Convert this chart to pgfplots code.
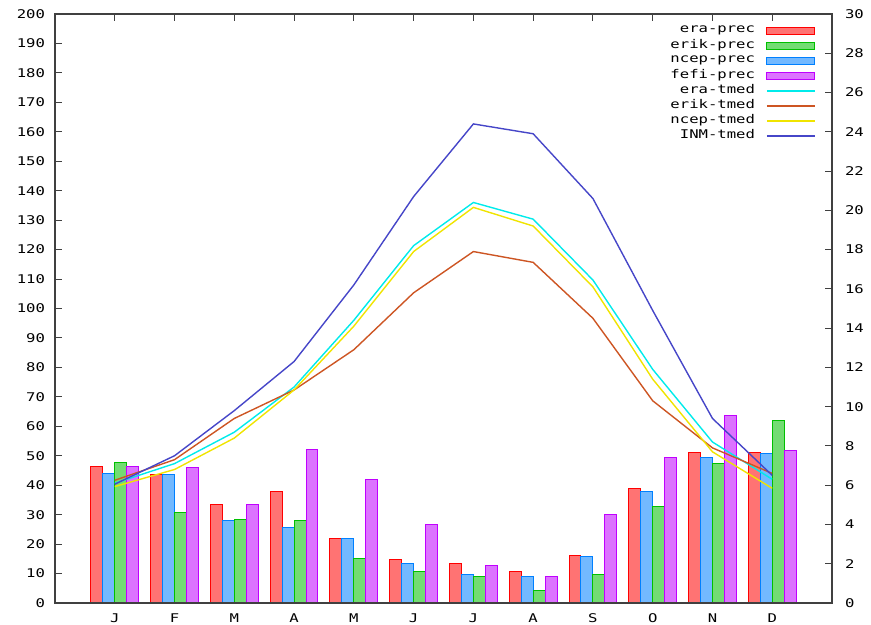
\documentclass[border=0pt]{standalone}
\usepackage{pgfplots}
\pgfplotsset{compat=1.18}
\usepackage{fontspec}
\newfontfamily\gp[FakeStretch=1.3]{DejaVu Sans Mono}
\definecolor{cera}{RGB}{255,0,0}
\definecolor{cerik}{RGB}{0,192,0}
\definecolor{cncep}{RGB}{0,128,255}
\definecolor{cfefi}{RGB}{192,0,255}
\definecolor{tera}{RGB}{0,235,235}
\definecolor{terik}{RGB}{205,85,35}
\definecolor{tncep}{RGB}{240,228,0}
\definecolor{tinm}{RGB}{70,70,200}
\pgfplotsset{
  gpbase/.style={
    at={(27.5pt,11pt)}, anchor=south west,
    width=388.5pt, height=294.5pt, scale only axis,
    xmin=0, xmax=13,
    tick align=inside, major tick length=3.5pt,
    tick style={line width=0.5pt, color=black!75},
    axis line style={line width=0.6pt, color=black!75},
    tick label style={font=\gp\fontsize{6}{7}\selectfont},
    /pgf/number format/assume math mode=true,
  },
  barstyle/.style={ybar, bar width=0.2, line width=0.5pt, draw=#1, fill=#1!55!white},
}
\begin{document}
\begin{tikzpicture}
\path[use as bounding box] (0,0) rectangle (435.5pt,312.5pt);
\begin{axis}[gpbase,
  ymin=0, ymax=200, ytick={0,10,...,200},
  xtick={1,...,12}, xticklabels={J,F,M,A,M,J,J,A,S,O,N,D},
  xtick pos=upper, xticklabel pos=lower,
  ytick pos=left,
  yticklabel style={xshift=-1.5pt},
  xticklabel style={yshift=-2pt},
]
\addplot[barstyle=cera, bar shift=-0.3] coordinates {(1,46.2) (2,43.5) (3,33.5) (4,37.8) (5,21.8) (6,14.7) (7,13.3) (8,10.8) (9,16.2) (10,38.9) (11,51.2) (12,51.2)};
\addplot[barstyle=cncep, bar shift=-0.1] coordinates {(1,44) (2,43.5) (3,28) (4,25.6) (5,21.8) (6,13.3) (7,9.6) (8,9.1) (9,15.7) (10,37.9) (11,49.3) (12,50.8)};
\addplot[barstyle=cerik, bar shift=0.1] coordinates {(1,47.7) (2,30.7) (3,28.4) (4,28) (5,15.2) (6,10.8) (7,9.1) (8,4.2) (9,9.6) (10,32.7) (11,47.5) (12,62.1)};
\addplot[barstyle=cfefi, bar shift=0.3] coordinates {(1,46.2) (2,45.9) (3,33.5) (4,52) (5,42) (6,26.5) (7,12.9) (8,9.1) (9,29.9) (10,49.3) (11,63.6) (12,51.8)};
\end{axis}
\begin{axis}[gpbase,
  ymin=0, ymax=30, ytick={0,2,...,30},
  xtick=\empty, ytick pos=right,
  yticklabel style={xshift=3pt},
  legend plot pos=right,
  legend cell align=right,
  legend style={draw=none, fill=none, at={(1,1)}, anchor=north east,
    xshift=-8pt, yshift=-4.5pt, inner sep=0pt, row sep=0pt, column sep=5pt,
    font=\gp\fontsize{6}{7}\selectfont,
    nodes={inner sep=0.6pt, minimum height=7.5pt}},
]
\addlegendimage{legend image code/.code={\draw[line width=0.5pt, draw=cera, fill=cera!55!white] (0pt,-1.7pt) rectangle (24pt,1.7pt);}}
\addlegendentry{era-prec}
\addlegendimage{legend image code/.code={\draw[line width=0.5pt, draw=cerik, fill=cerik!55!white] (0pt,-1.7pt) rectangle (24pt,1.7pt);}}
\addlegendentry{erik-prec}
\addlegendimage{legend image code/.code={\draw[line width=0.5pt, draw=cncep, fill=cncep!55!white] (0pt,-1.7pt) rectangle (24pt,1.7pt);}}
\addlegendentry{ncep-prec}
\addlegendimage{legend image code/.code={\draw[line width=0.5pt, draw=cfefi, fill=cfefi!55!white] (0pt,-1.7pt) rectangle (24pt,1.7pt);}}
\addlegendentry{fefi-prec}
\pgfplotsset{every axis plot/.append style={line width=0.7pt, mark=none,
  legend image code/.code={\draw[##1] (0pt,0pt) -- (24pt,0pt);}}}
\addplot[color=tera] coordinates {(1,6.1) (2,7.1) (3,8.7) (4,11.0) (5,14.4) (6,18.2) (7,20.4) (8,19.55) (9,16.45) (10,11.9) (11,8.2) (12,6.3)};
\addlegendentry{era-tmed}
\addplot[color=terik] coordinates {(1,6.25) (2,7.3) (3,9.4) (4,10.85) (5,12.9) (6,15.8) (7,17.9) (8,17.35) (9,14.5) (10,10.3) (11,7.9) (12,6.6)};
\addlegendentry{erik-tmed}
\addplot[color=tncep] coordinates {(1,5.93) (2,6.8) (3,8.4) (4,10.85) (5,14.1) (6,17.9) (7,20.15) (8,19.2) (9,16.1) (10,11.4) (11,7.7) (12,5.84)};
\addlegendentry{ncep-tmed}
\addplot[color=tinm] coordinates {(1,6.05) (2,7.5) (3,9.8) (4,12.3) (5,16.2) (6,20.7) (7,24.4) (8,23.9) (9,20.6) (10,14.9) (11,9.4) (12,6.5)};
\addlegendentry{INM-tmed}
\end{axis}
\end{tikzpicture}
\end{document}
